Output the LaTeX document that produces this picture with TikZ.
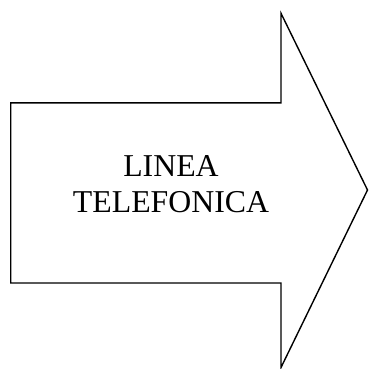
\documentclass[tikz,border=0pt]{standalone}
\usepackage{fontspec}
\setmainfont{Liberation Serif}
\begin{document}
\begin{tikzpicture}[x=1pt,y=-1pt,
  arrowshape/.style={draw=black,line width=1.4pt,line join=miter,fill=white},
  label/.style={font=\fontsize{31.8}{36.5}\selectfont,align=center,inner sep=0pt}]
\useasboundingbox (0,0) rectangle (369,369);
\draw[arrowshape] (10.7,102.8) -- (281,102.8) -- (281,13.3) -- (367.5,190) -- (281,367.5) -- (281,283) -- (10.7,283) -- cycle;
\node[label] (t) at (171,184) {LINEA\\TELEFONICA};
\end{tikzpicture}
\end{document}
